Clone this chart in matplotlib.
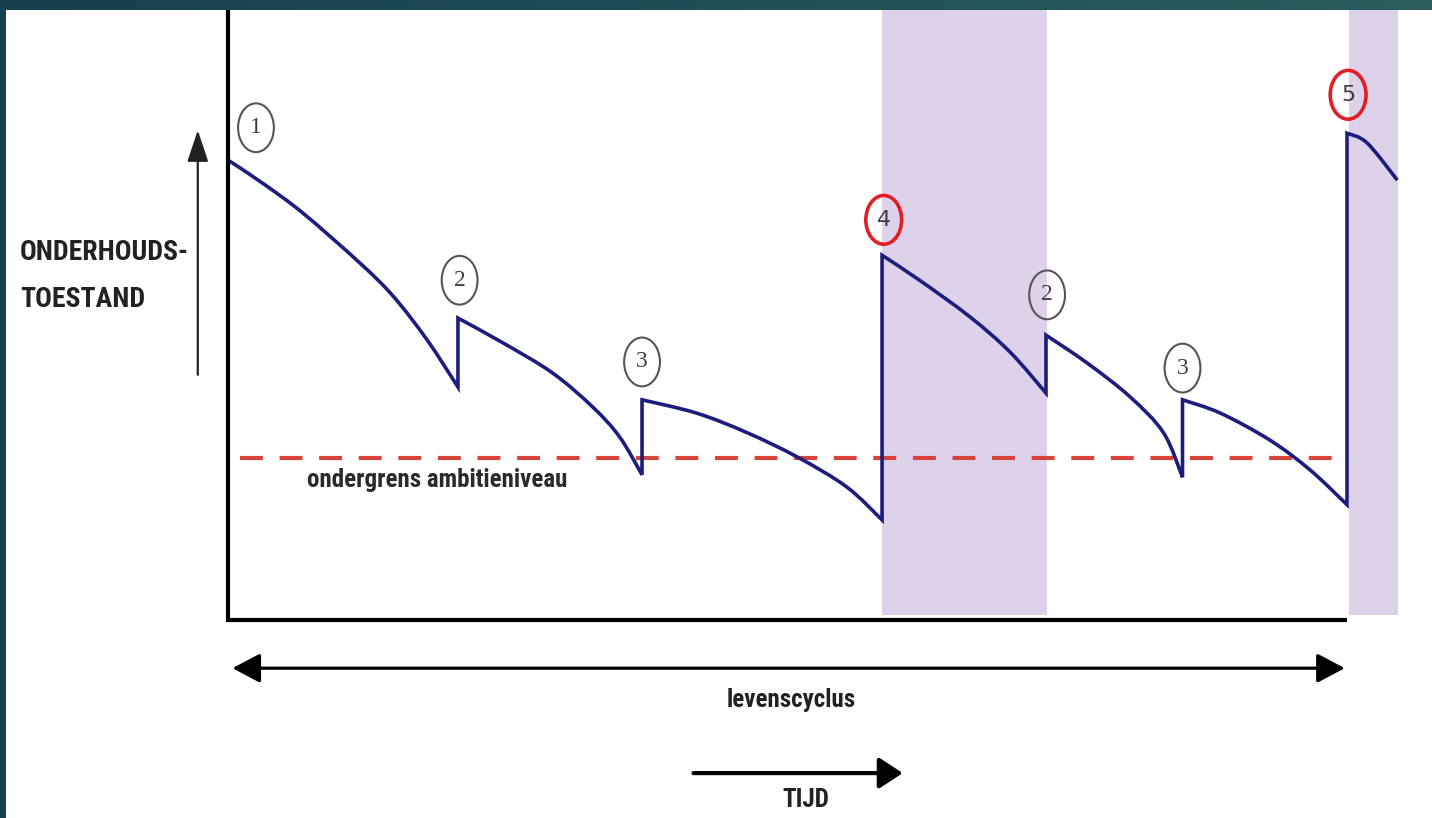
import numpy as np
import matplotlib
matplotlib.use("Agg")
import matplotlib.pyplot as plt
from matplotlib.patches import Ellipse, Rectangle, PathPatch
from matplotlib.path import Path

# condition curve: time 0..100 = one life cycle, condition 0..100
seg_t = [
    [0.0, 3.1, 6.7, 11.8, 14.8, 17.8, 20.55],
    [20.55, 24.6, 29.0, 32.6, 35.0, 37.0],
    [37.0, 41.9, 46.4, 50.9, 55.3, 58.45],
    [58.45, 61.8, 66.3, 69.9, 73.1],
    [73.1, 76.8, 80.6, 83.6, 85.3],
    [85.3, 88.7, 93.1, 96.7, 100.0],
    [100.0, 101.8, 104.5],
]
seg_y = [
    [75.4, 71.6, 66.7, 58.5, 53.0, 45.9, 38.2],
    [49.5, 45.4, 40.5, 34.9, 30.0, 23.8],
    [36.1, 33.9, 30.7, 26.7, 21.8, 16.4],
    [59.8, 55.7, 49.7, 43.9, 37.2],
    [46.7, 42.1, 36.6, 30.7, 23.4],
    [36.1, 33.9, 29.5, 24.6, 18.9],
    [79.8, 78.2, 72.1],
]
threshold = 26.6
threshold_label = "ondergrens ambitieniveau"

# shaded renovation periods
band_start = [58.45, 100.2]
band_end = [73.2, 104.6]

# circled markers: label, time, height, highlighted
mark_labels = ["1", "2", "3", "4", "2", "3", "5"]
mark_t = [2.5, 20.7, 37.0, 58.6, 73.2, 85.3, 100.1]
mark_y = [80.7, 55.7, 42.3, 65.6, 53.3, 41.3, 86.1]
mark_red = [False, False, False, True, False, False, True]


def smooth_path(ts, ys):
    # draw a smooth line through the read points (Catmull-Rom as cubic Beziers)
    verts, codes = [], []
    for k, (t, y) in enumerate(zip(ts, ys)):
        p = np.column_stack([t, y])
        if k == 0:
            verts.append(p[0]); codes.append(Path.MOVETO)
        else:
            verts.append(p[0]); codes.append(Path.LINETO)
        q = np.vstack([p[0], p, p[-1]])
        for i in range(1, len(q) - 2):
            c1 = q[i] + (q[i + 1] - q[i - 1]) / 6
            c2 = q[i + 1] - (q[i + 2] - q[i]) / 6
            verts += [c1, c2, q[i + 1]]
            codes += [Path.CURVE4] * 3
    return Path(np.array(verts), codes)


W, H = 1432, 818
fig = plt.figure(figsize=(W / 100, H / 100), dpi=100)

# slide frame: teal gradient with a white panel on top
bg = fig.add_axes([0, 0, 1, 1])
grad = np.linspace(0, 1, 256).reshape(1, -1)
cmap = matplotlib.colors.LinearSegmentedColormap.from_list("slide", ["#15404d", "#2a5d5e"])
bg.imshow(grad, aspect="auto", cmap=cmap, extent=[0, 1, 0, 1])
bg.add_patch(Rectangle((6 / W, 0), 1, 1 - 10 / H, color="white", lw=0))
bg.set_xlim(0, 1)
bg.set_ylim(0, 1)
bg.axis("off")

# main drawing axes, same size as the figure
ax = fig.add_axes([0, 0, 1, 1])
ax.patch.set_alpha(0)
ax.set_xlim(-228 / 11.19, (W - 228) / 11.19)
ax.set_ylim(-(H - 620) / 6.1, 620 / 6.1)
ax.axis("off")

narrow = ["Roboto Condensed", "Liberation Sans Narrow", "Roboto", "DejaVu Sans"]

for x0, x1 in zip(band_start, band_end):
    ax.fill_between([x0, x1], 0.8, 100, color="#ddd2ea", lw=0, zorder=1)

ax.plot([1.07, 100], [threshold, threshold], color="#d8443a", lw=3,
        dashes=(5.5, 4.0), zorder=2)
ax.text(18.7, 23.0, threshold_label, ha="center", va="center", fontsize=18,
        color="#2a2a2a", family=narrow, fontweight="bold")

ax.add_patch(PathPatch(smooth_path(seg_t, seg_y), fill=False, ec="#1d1d7e", lw=2.6,
                       joinstyle="miter", zorder=3))

for lab, t, y, red in zip(mark_labels, mark_t, mark_y, mark_red):
    ec = "#e01f26" if red else "#555555"
    ax.add_patch(Ellipse((t, y), 3.2, 8.0, fill=False, ec=ec, lw=2.6 if red else 1.5, zorder=4))
    ax.text(t, y, lab, ha="center", va="center", fontsize=17 if not red else 16,
            color="#3d3d4a", family="Liberation Serif" if not red else "DejaVu Sans", zorder=5)

# axes lines
ax.plot([0, 0, 100], [100, 0, 0], color="black", lw=3, solid_joinstyle="miter",
        solid_capstyle="butt", zorder=6)

# y axis arrow and label
ax.annotate("", xy=(-2.7, 80.3), xytext=(-2.7, 40.2),
            arrowprops=dict(arrowstyle="-|>,head_length=1.95,head_width=0.65",
                            lw=1.6, color="#222222", shrinkA=0, shrinkB=0))
ax.text(-18.6, 60.2, "ONDERHOUDS-", ha="left", va="center", fontsize=20,
        color="#222222", family=narrow, fontweight="bold")
ax.text(-18.6, 52.5, "TOESTAND", ha="left", va="center", fontsize=20,
        color="#222222", family=narrow, fontweight="bold")

# life cycle arrow
ax.annotate("", xy=(0.4, -7.9), xytext=(99.8, -7.9),
            arrowprops=dict(arrowstyle="<|-|>,head_length=1.7,head_width=0.9",
                            lw=2.3, color="black", shrinkA=0, shrinkB=0))
ax.text(50.3, -13.1, "levenscyclus", ha="center", va="center", fontsize=18,
        color="#222222", family=narrow, fontweight="bold")

# time arrow
ax.annotate("", xy=(60.3, -25.1), xytext=(41.6, -25.1),
            arrowprops=dict(arrowstyle="-|>,head_length=1.45,head_width=0.95",
                            lw=3.0, color="black", shrinkA=0, shrinkB=0))
ax.text(51.6, -29.5, "TIJD", ha="center", va="center", fontsize=18,
        color="#222222", family=narrow, fontweight="bold")

fig.savefig("out.png", dpi=100)
